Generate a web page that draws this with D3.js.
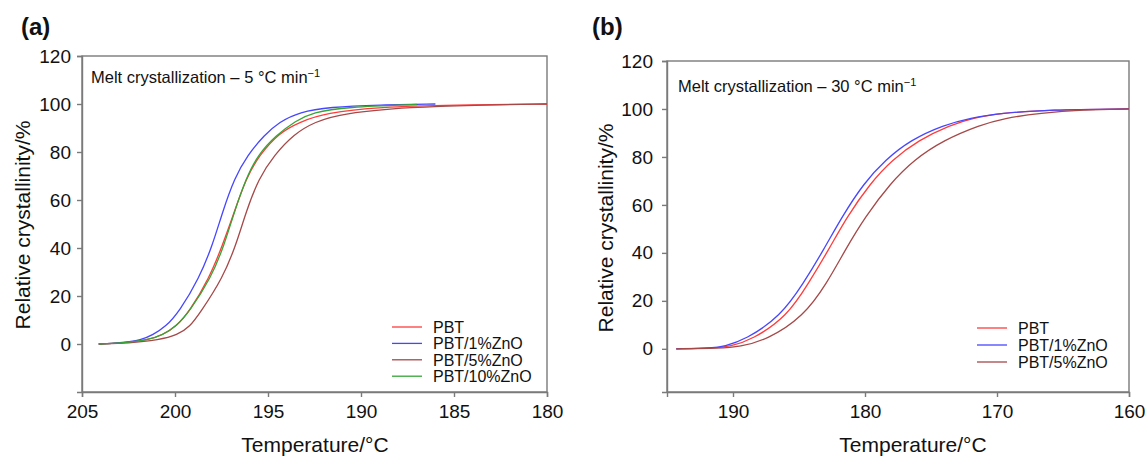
<!DOCTYPE html>
<html>
<head>
<meta charset="utf-8">
<script src="https://cdn.jsdelivr.net/npm/d3@7"></script>
<style>
body { margin: 0; background: #fff; }
text { font-family: Arial, "Liberation Sans", Helvetica, sans-serif; fill: #111; }
</style>
</head>
<body>
<div id="graphic"></div>
<script>
var width = 1145;
var height = 457;

// tick labels
var yTicks = [0, 20, 40, 60, 80, 100, 120];
var xTicksA = [205, 200, 195, 190, 185, 180];
var xTicksB = [190, 180, 170, 160];

// series names
var namesA = ["PBT", "PBT/1%ZnO", "PBT/5%ZnO", "PBT/10%ZnO"];
var namesB = ["PBT", "PBT/1%ZnO", "PBT/5%ZnO"];

// (a) 5 °C/min, temperature (°C) and relative crystallinity (%)
var tempA_pbt = [204.1, 203.0, 201.4, 200.67, 199.9, 199.23, 198.16, 197.44, 196.81, 196.18, 195.46, 194.4, 193.3, 191.9, 189.0, 185.0, 180.0];
var crysA_pbt = [0, 0.3, 1.7, 3.75, 7.6, 13.5, 27.4, 41.25, 55.1, 69, 78.75, 88, 92.5, 96.3, 98.75, 99.6, 100];

var tempA_1 = [204.1, 203.0, 201.77, 201.21, 200.5, 199.77, 198.7, 197.98, 197.44, 196.81, 196.1, 195.2, 194.4, 193.3, 191.7, 189.0, 186.0];
var crysA_1 = [0, 0.4, 1.7, 3.75, 7.2, 13.5, 27.4, 41.25, 55.1, 69, 78.75, 87, 92.5, 96.7, 98.75, 99.6, 100];

var tempA_5 = [204.1, 202.5, 200.85, 199.87, 199.2, 198.65, 197.44, 196.72, 196.18, 195.5, 194.66, 193.6, 192.5, 191.0, 187.2, 184.0, 180.0];
var crysA_5 = [0, 0.3, 1.7, 3.75, 7.2, 13.0, 27.4, 41.25, 55.1, 69, 78.75, 87.5, 92.5, 96.2, 98.75, 99.5, 100];

var tempA_10 = [204.1, 203.0, 201.4, 200.67, 199.95, 199.23, 198.07, 197.35, 196.81, 196.18, 195.55, 194.56, 193.5, 192.6, 190.8, 187.0];
var crysA_10 = [0, 0.3, 1.7, 3.75, 7.2, 13.5, 27.4, 41.25, 55.1, 69, 78.75, 87, 93, 96.5, 98.75, 99.8];

// (b) 30 °C/min
var tempB_pbt = [194.3, 191.5, 190.2, 188.56, 185.9, 184.27, 182.76, 181.36, 179.6, 177.95, 175.94, 173.54, 171.8, 169.75, 166.0, 160.0];
var crysB_pbt = [0, 0.3, 1.0, 3.75, 13.5, 27.4, 41.25, 55.1, 69, 78.75, 87, 93.3, 96.25, 98.2, 99.7, 100];

var tempB_1 = [194.3, 191.5, 190.7, 189.07, 186.4, 184.65, 183.14, 181.74, 180.1, 178.46, 176.57, 174.05, 172.0, 169.75, 166.0, 160.0];
var crysB_1 = [0, 0.4, 1.0, 3.75, 13.5, 27.4, 41.25, 55.1, 69, 78.75, 87, 93.3, 96.25, 98.2, 99.7, 100];

var tempB_5 = [194.3, 191.0, 189.5, 187.42, 184.65, 182.88, 181.5, 179.98, 178.08, 176.3, 174.05, 171.27, 169.5, 166.7, 163.5, 160.0];
var crysB_5 = [0, 0.2, 0.8, 3.75, 13.5, 27.4, 41.25, 55.1, 69, 78.75, 87, 93.3, 96.1, 98.3, 99.7, 100];

var colors = {
  "PBT": "#ff3b3b",
  "PBT/1%ZnO": "#4646ff",
  "PBT/5%ZnO": "#a54848",
  "PBT/10%ZnO": "#35a535"
};

var toPoints = function(temps, values) {
  return temps.map((t, i) => ({ t: t, v: values[i] }));
};

var svg = d3.select("#graphic")
  .append("svg")
  .attr("width", width)
  .attr("height", height);

function drawPanel(p) {
  var xScale = d3.scaleLinear().domain(p.xDomain).range(p.xRange);
  var yScale = d3.scaleLinear().domain(p.yDomain).range(p.yRange);
  var g = svg.append("g");

  // frame
  g.append("rect")
    .attr("x", p.xRange[0])
    .attr("y", p.yRange[1])
    .attr("width", p.xRange[1] - p.xRange[0])
    .attr("height", p.yRange[0] - p.yRange[1])
    .attr("fill", "none")
    .attr("stroke", "#7a7a7a")
    .attr("stroke-width", 1.4);

  var xAxis = g.append("g")
    .attr("transform", "translate(0," + p.yRange[0] + ")")
    .call(d3.axisBottom(xScale).tickValues(p.xTicks).tickSize(5).tickPadding(8));
  var yAxis = g.append("g")
    .attr("transform", "translate(" + p.xRange[0] + ",0)")
    .call(d3.axisLeft(yScale).tickValues(yTicks).tickSize(5).tickPadding(p.yPad));

  [xAxis, yAxis].forEach(a => {
    a.select(".domain").attr("stroke", "#7a7a7a").attr("stroke-width", 1.4);
    a.selectAll(".tick line").attr("stroke", "#7a7a7a").attr("stroke-width", 1.4);
    a.selectAll(".tick text")
      .attr("fill", "#111")
      .style("font-size", "19px")
      .style("font-family", "Arial, 'Liberation Sans', sans-serif");
  });

  // smooth curve through the read-off points
  var line = d3.line()
    .x(d => xScale(d.t))
    .y(d => yScale(d.v))
    .curve(d3.curveBasis);

  p.series.forEach(s => {
    g.append("path")
      .datum(toPoints(s.temps, s.values))
      .attr("fill", "none")
      .attr("stroke", colors[s.name])
      .attr("stroke-width", 1.3)
      .attr("d", line);
  });

  // legend
  p.series.forEach((s, i) => {
    var ly = p.legendY + i * p.legendStep;
    g.append("line")
      .attr("x1", p.legendX)
      .attr("x2", p.legendX + 30)
      .attr("y1", ly)
      .attr("y2", ly)
      .attr("stroke", colors[s.name])
      .attr("stroke-width", 1.3);
    g.append("text")
      .attr("x", p.legendX + 41)
      .attr("y", ly + 6)
      .style("font-size", "16px")
      .text(s.name);
  });

  // annotation
  var note = g.append("text")
    .attr("x", p.noteX)
    .attr("y", p.noteY)
    .style("font-size", "16.5px")
    .text(p.note);
  note.append("tspan")
    .attr("dy", -6)
    .style("font-size", "11px")
    .text("\u22121");

  // panel label
  g.append("text")
    .attr("x", p.labelX)
    .attr("y", 35)
    .style("font-size", "24px")
    .style("font-weight", "bold")
    .text(p.label);

  // axis titles
  g.append("text")
    .attr("x", p.xTitleX)
    .attr("y", 452)
    .attr("text-anchor", "middle")
    .style("font-size", "21px")
    .text("Temperature/\u00b0C");

  g.append("text")
    .attr("transform", "translate(" + p.yTitleX + "," + p.yTitleY + ") rotate(-90)")
    .attr("text-anchor", "middle")
    .style("font-size", "21px")
    .text("Relative crystallinity/%");
}

drawPanel({
  label: "(a)",
  labelX: 21,
  xDomain: [205, 180],
  xRange: [82, 547],
  yDomain: [-20, 120],
  yRange: [392, 56],
  yPad: 6,
  xTicks: xTicksA,
  note: "Melt crystallization \u2013 5 \u00b0C min",
  noteX: 91,
  noteY: 83,
  legendX: 392,
  legendY: 327,
  legendStep: 16.4,
  xTitleX: 315,
  yTitleX: 30,
  yTitleY: 225,
  series: [
    { name: namesA[0], temps: tempA_pbt, values: crysA_pbt },
    { name: namesA[1], temps: tempA_1, values: crysA_1 },
    { name: namesA[2], temps: tempA_5, values: crysA_5 },
    { name: namesA[3], temps: tempA_10, values: crysA_10 }
  ]
});

drawPanel({
  label: "(b)",
  labelX: 592,
  xDomain: [195, 160],
  xRange: [667, 1129],
  yDomain: [-18, 120],
  yRange: [392, 61],
  yPad: 9,
  xTicks: xTicksB,
  note: "Melt crystallization \u2013 30 \u00b0C min",
  noteX: 678,
  noteY: 92,
  legendX: 977,
  legendY: 328,
  legendStep: 17,
  xTitleX: 913,
  yTitleX: 613,
  yTitleY: 228,
  series: [
    { name: namesB[0], temps: tempB_pbt, values: crysB_pbt },
    { name: namesB[1], temps: tempB_1, values: crysB_1 },
    { name: namesB[2], temps: tempB_5, values: crysB_5 }
  ]
});
</script>
</body>
</html>
